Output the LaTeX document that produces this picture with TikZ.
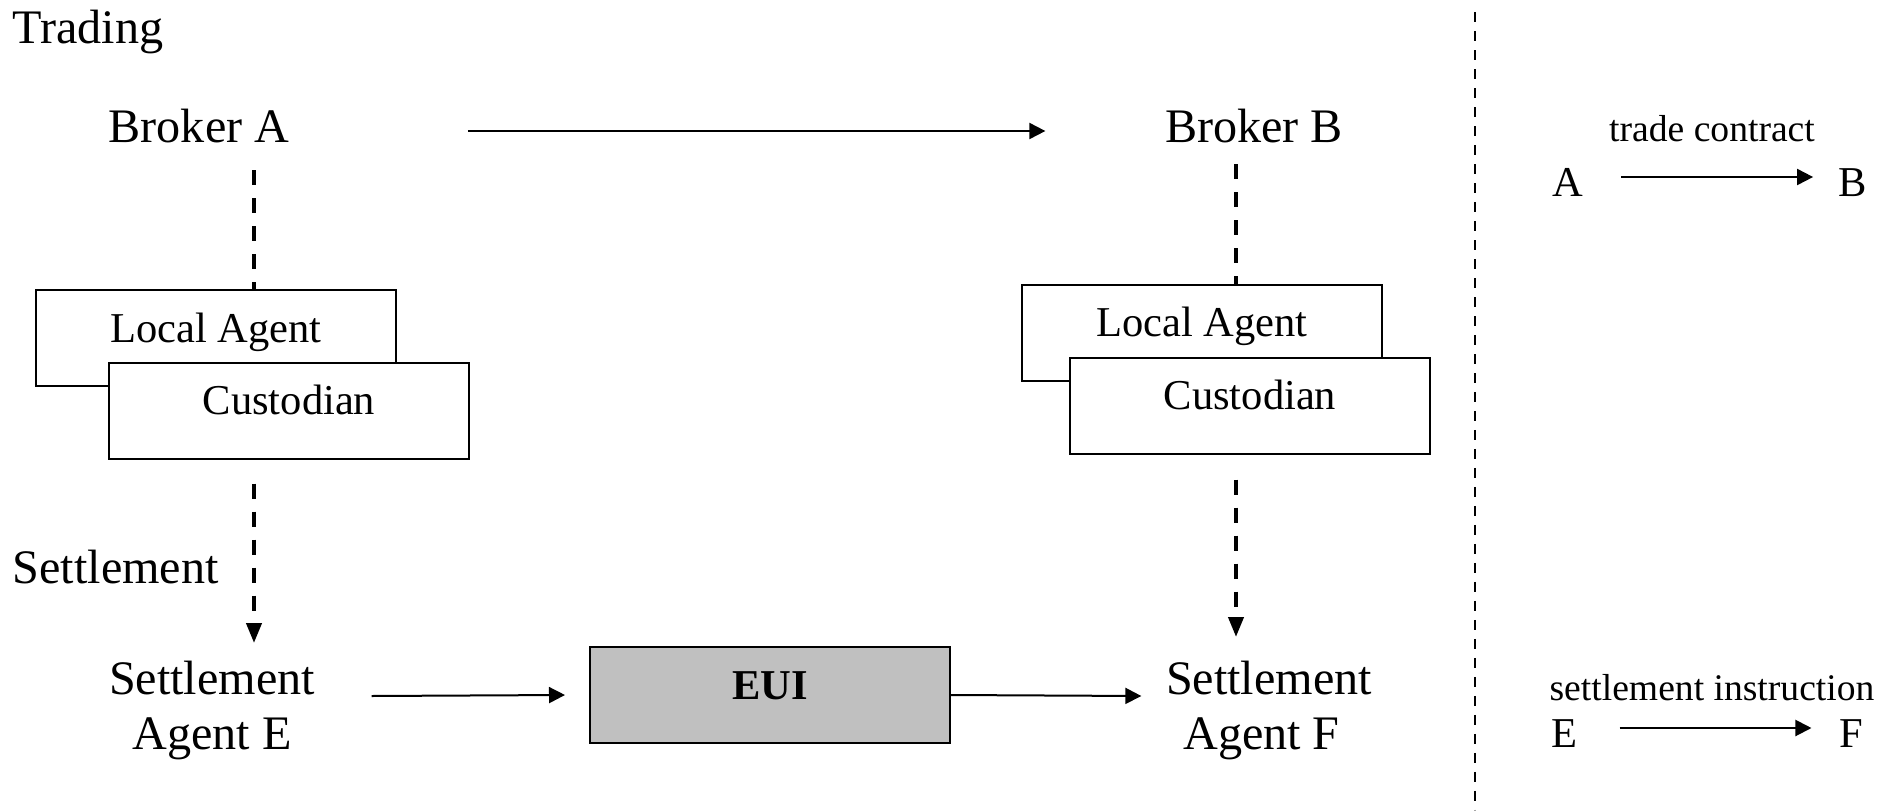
\documentclass[tikz,border=0pt]{standalone}
\usepackage{fontspec}
\setmainfont{Liberation Serif}
\usetikzlibrary{arrows.meta, calc, positioning}
\definecolor{euigray}{HTML}{C0C0C0}
\newcommand{\bigfont}{\fontsize{13.7}{15.6}\selectfont}
\newcommand{\boxfont}{\fontsize{12.1}{14}\selectfont}
\newcommand{\keyfont}{\fontsize{10.7}{12}\selectfont}
\newcommand{\sepx}{1475}
\tikzset{
	every node/.style={inner sep=0pt, font=\bigfont},
	agentbox/.style={draw, fill=white, line width=0.2mm, minimum width=36mm, text height=5.2mm, text depth=4.4mm, font=\boxfont},
	euibox/.style={agentbox, fill=euigray},
	flow/.style={-{Triangle[length=1.6mm, width=1.6mm]}, line width=0.2mm},
	dashlink/.style={dash pattern=on 1.5mm off 1.3mm, line width=0.4mm},
	dashflow/.style={dashlink, -{Triangle[length=2mm, width=1.5mm]}},
	separator/.style={dash pattern=on 1mm off 0.9mm, line width=0.23mm}
}

\begin{document}
\begin{tikzpicture}[x=0.1mm, y=-0.1mm]
	\useasboundingbox (0,0) rectangle (1894,810);
		% section titles
		\node[anchor=base west] (trading) at (12,43) {Trading};
		\node[anchor=base west] (settle) at (12,583) {Settlement};
		% brokers
		\node[anchor=base] (brokerA) at (199,142) {Broker A};
		\node[anchor=base] (brokerB) at (1254,142) {Broker B};
		% local agents and custodians
		\node[agentbox] (localA) at (216,338) {Local Agent};
		\node[agentbox] (custA)  at (289,410.5) {Custodian};
		\node[agentbox] (localB) at (1202,332.5) {Local Agent};
		\node[agentbox] (custB)  at (1250,405.5) {Custodian};
		% settlement agents and EUI (base = second line)
		\node[anchor=base, align=center] (agentE) at (212,749) {Settlement\\Agent E};
		\node[anchor=base, align=center] (agentF) at (1269,749) {Settlement\\Agent F\hspace*{1.5mm}};
		\node[euibox] (eui) at (770,695) {\textbf{EUI}};
		% edges
		\draw[flow] ($(brokerA.base east)+(178,-11)$) -- ($(brokerB.base west)+(-119,-11)$);
		\draw[dashlink] ($(brokerA.base)+(55,28)$) coordinate (upA) -- (upA |- localA.north);
		\draw[dashlink] ($(brokerB.base)+(-18,22)$) coordinate (upB) -- (upB |- localB.north);
		\draw[dashflow] ($(custA.south -| upA)+(0,24)$) -- ($(agentE.base -| upA)+(0,-106)$);
		\draw[dashflow] ($(custB.south -| upB)+(0,25)$) -- ($(agentF.base -| upB)+(0,-112)$);
		\draw[flow] ($(agentE.base east)+(56,-53)$) -- ($(eui.west)+(-24,0)$);
		\draw[flow] (eui.east) -- ($(agentF.base west)+(-24,-53)$);
		% separator
		\draw[separator] (\sepx,12) -- (\sepx,810);
		% key
		\node[anchor=base, font=\keyfont] (tradeKey) at (1712,141) {trade contract};
		\node[anchor=base, font=\boxfont] (keyA) at (1568,196) {A};
		\node[anchor=base, font=\boxfont] (keyB) at (1853,196) {B};
		\draw[flow] ($(keyA.base east)+(37,-19)$) -- ($(keyB.base west)+(-25,-19)$);
		\node[anchor=base, font=\keyfont] (settleKey) at (1712,700) {settlement instruction};
		\node[anchor=base, font=\boxfont] (keyE) at (1564,747) {E};
		\node[anchor=base, font=\boxfont] (keyF) at (1851,747) {F};
		\draw[flow] ($(keyE.base east)+(42,-19)$) -- ($(keyF.base west)+(-27,-19)$);
\end{tikzpicture}
\end{document}
